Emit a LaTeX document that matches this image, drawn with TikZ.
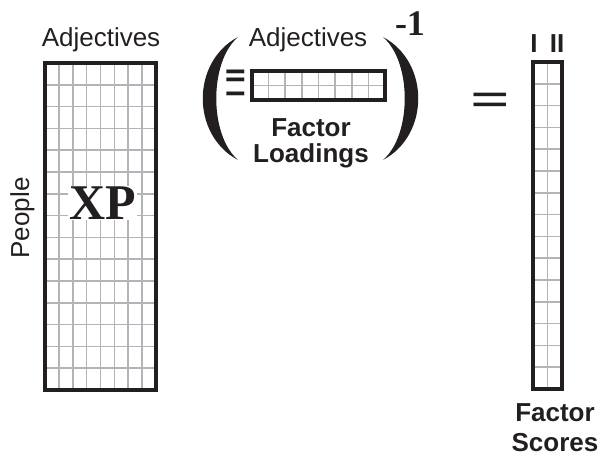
\documentclass[tikz,border=0pt]{standalone}
\usepackage{fontspec}
\setmainfont{Liberation Sans}
\newfontfamily\timesfont{Liberation Serif}
\definecolor{ink}{RGB}{35,31,32}
\definecolor{cellgray}{RGB}{178,180,183}

\begin{document}
\begin{tikzpicture}[x=1pt,y=-1pt]
  \tikzstyle{cell}=[draw=cellgray,line width=1.6pt]
  \tikzstyle{frame}=[draw=ink,line width=4.5pt]
  \tikzstyle{lbl}=[inner sep=0pt,text=ink,font=\fontsize{26}{28}\selectfont]
  \tikzstyle{boldlbl}=[lbl,align=center,font=\fontsize{26}{28}\selectfont\bfseries]
  \useasboundingbox (0,0) rectangle (603,457);

  % data matrix XP
  \foreach \i in {1,...,7} \draw[cell] ({45+\i*13.875},63) -- ({45+\i*13.875},390);
  \foreach \j in {1,...,14} \draw[cell] (45,{63+\j*21.8}) -- (156,{63+\j*21.8});
  \draw[frame] (45,63) rectangle (156,390);
  \node (adjL) [lbl,anchor=base] at (101,47) {Adjectives};
  \node (people) [lbl,anchor=base,rotate=90] at (29,218) {People};
  \node (xp) [fill=white,inner sep=1pt,text=ink,font=\timesfont\bfseries\fontsize{50}{50}\selectfont] at (102.5,203) {XP};

  % loadings, inverted
  \foreach \i in {1,...,7} \draw[cell] ({252+\i*16.625},71) -- ({252+\i*16.625},100);
  \draw[cell] (252,85.5) -- (385,85.5);
  \draw[frame] (252,71) rectangle (385,100);
  \node (adjR) [lbl,anchor=base] at (308,47) {Adjectives};
  \node (rows) [boldlbl,rotate=90] at (235.5,83) {I II};
  \node (loadings) [boldlbl,anchor=north] at (311,118) {Factor\\[-2pt]Loadings};
  \fill[ink] (238,37) .. controls (191,62) and (191,135) .. (238,160) .. controls (209,135) and (209,62) .. cycle;
  \fill[ink] (383,37) .. controls (430,62) and (430,135) .. (383,160) .. controls (412,135) and (412,62) .. cycle;
  \node (inv) [inner sep=0pt,text=ink,font=\timesfont\bfseries\fontsize{36}{36}\selectfont] at (410,23.5) {-1};

  \node (eq) [inner sep=0pt,text=ink,xscale=1.4,font=\timesfont\bfseries\fontsize{50}{50}\selectfont] at (490,104.5) {=};

  % factor scores
  \foreach \j in {1,...,14} \draw[cell] (533,{62+\j*21.8}) -- (562,{62+\j*21.8});
  \draw[cell] (547.5,62) -- (547.5,389);
  \draw[frame] (533,62) rectangle (562,389);
  \node (f1) [boldlbl,anchor=base] at (534,53) {I};
  \node (f2) [boldlbl,anchor=base] at (557,53) {II};
  \node (scores) [boldlbl,anchor=north] at (555,403) {Factor\\[2pt]Scores};
\end{tikzpicture}
\end{document}
